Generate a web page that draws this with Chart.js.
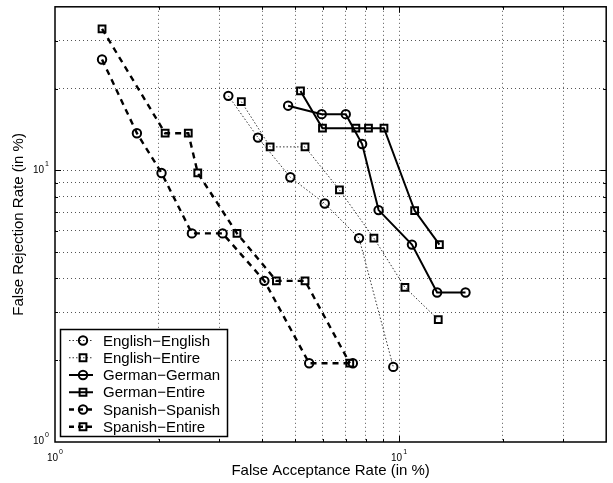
<!DOCTYPE html>
<html>
<head>
<meta charset="utf-8">
<title>DET curves</title>
<script src="https://cdn.jsdelivr.net/npm/chart.js@4.4.0/dist/chart.umd.min.js"></script>
<style>
    html, body { margin: 0; padding: 0; background: #fff; }
</style>
</head>
<body>
<canvas id="detChart" width="613" height="483"></canvas>
<script>
// False acceptance / false rejection rates (in %)
const engEngFar = [3.19, 3.89, 4.83, 6.08, 7.65, 9.62];
const engEngFrr = [18.8, 13.2, 9.43, 7.55, 5.63, 1.89];

const engEntFar = [3.48, 4.22, 5.33, 6.71, 8.45, 10.4, 13.0];
const engEntFrr = [17.9, 12.2, 12.2, 8.47, 5.63, 3.71, 2.82];

const gerGerFar = [4.76, 5.96, 7.00, 7.81, 8.72, 10.9, 12.9, 15.6];
const gerGerFrr = [17.3, 16.1, 16.1, 12.5, 7.14, 5.33, 3.55, 3.55];

const gerEntFar = [5.17, 5.99, 7.49, 8.15, 9.04, 11.1, 13.1];
const gerEntFrr = [19.6, 14.3, 14.3, 14.3, 14.3, 7.11, 5.33];

const spaSpaFar = [1.37, 1.73, 2.04, 2.50, 3.07, 4.06, 5.48, 7.34];
const spaSpaFrr = [25.6, 13.7, 9.78, 5.86, 5.86, 3.92, 1.95, 1.95];

const spaEntFar = [1.37, 2.09, 2.44, 2.60, 3.38, 4.40, 5.33, 7.19];
const spaEntFrr = [33.2, 13.7, 13.7, 9.78, 5.86, 3.92, 3.92, 1.95];

const seriesNames = ['English\u2212English', 'English\u2212Entire', 'German\u2212German',
                     'German\u2212Entire', 'Spanish\u2212Spanish', 'Spanish\u2212Entire'];

// grid positions (log decades plus minor steps) and labelled decades
const gridVals = [1, 2, 3, 4, 5, 6, 7, 8, 9, 10, 20, 30, 40];
const decadeTicks = [1, 10];

const FONT = "'Liberation Sans', Arial, Helvetica, sans-serif";

const lineStyles = {
    dotted: { borderDash: [1.5, 2], borderWidth: 1, borderColor: '#333' },
    solid:  { borderDash: [],        borderWidth: 2, borderColor: '#000' },
    dashed: { borderDash: [6, 5],    borderWidth: 2.4, borderColor: '#000' }
};

function toPoints(xs, ys) {
    return xs.map((v, i) => ({ x: v, y: ys[i] }));
}

function makeSet(label, xs, ys, style, marker) {
    const s = lineStyles[style];
    return {
        label: label,
        data: toPoints(xs, ys),
        showLine: true,
        borderColor: s.borderColor,
        borderWidth: s.borderWidth,
        borderDash: s.borderDash,
        pointStyle: marker,
        pointRadius: marker === 'rect' ? 4.8 : 4.2,
        pointBorderWidth: 2,
        pointBorderColor: '#000',
        pointBackgroundColor: 'rgba(0,0,0,0)',
        lineStyleKey: style
    };
}

const datasets = [
    makeSet(seriesNames[0], engEngFar, engEngFrr, 'dotted', 'circle'),
    makeSet(seriesNames[1], engEntFar, engEntFrr, 'dotted', 'rect'),
    makeSet(seriesNames[2], gerGerFar, gerGerFrr, 'solid', 'circle'),
    makeSet(seriesNames[3], gerEntFar, gerEntFrr, 'solid', 'rect'),
    makeSet(seriesNames[4], spaSpaFar, spaSpaFrr, 'dashed', 'circle'),
    makeSet(seriesNames[5], spaEntFar, spaEntFrr, 'dashed', 'rect')
];

function gridColor(ctx) {
    const v = ctx.tick && ctx.tick.value;
    return (v === 1 || v === 40) ? 'rgba(0,0,0,0)' : '#555';
}

function drawMarker(ctx, style, x, y) {
    ctx.beginPath();
    if (style === 'circle') {
        ctx.arc(x, y, 4.2, 0, Math.PI * 2);
    } else {
        const h = 4.8 * Math.SQRT1_2;
        ctx.rect(x - h, y - h, 2 * h, 2 * h);
    }
    ctx.lineWidth = 2;
    ctx.setLineDash([]);
    ctx.strokeStyle = '#000';
    ctx.stroke();
}

function drawPowerLabel(ctx, exp, x, y, align) {
    ctx.font = '10px ' + FONT;
    const base = '10';
    const bw = ctx.measureText(base).width;
    ctx.font = '7px ' + FONT;
    const ew = ctx.measureText(exp).width;
    let left = x;
    if (align === 'center') left = x - (bw + ew + 1) / 2;
    ctx.textBaseline = 'middle';
    ctx.textAlign = 'left';
    ctx.font = '10px ' + FONT;
    ctx.fillText(base, left, y);
    ctx.font = '7px ' + FONT;
    ctx.fillText(exp, left + bw + 1, y - 6);
}

// Frame, inside ticks, decade labels and the boxed legend
const framePlugin = {
    id: 'frame',
    afterDraw(chart) {
        const { ctx, chartArea: a, scales: { x, y } } = chart;
        ctx.save();
        ctx.strokeStyle = '#000';
        ctx.fillStyle = '#000';
        ctx.lineWidth = 1;
        ctx.setLineDash([]);

        gridVals.forEach(v => {
            if (v === 1 || v === 40) return;
            const len = decadeTicks.indexOf(v) >= 0 ? 6 : 3;
            const px = Math.round(x.getPixelForValue(v)) + 0.5;
            const py = Math.round(y.getPixelForValue(v)) + 0.5;
            ctx.beginPath();
            ctx.moveTo(px, a.bottom); ctx.lineTo(px, a.bottom - len);
            ctx.moveTo(px, a.top); ctx.lineTo(px, a.top + len);
            ctx.moveTo(a.left, py); ctx.lineTo(a.left + len, py);
            ctx.moveTo(a.right, py); ctx.lineTo(a.right - len, py);
            ctx.stroke();
        });

        // decade labels
        decadeTicks.forEach(v => {
            const exp = String(Math.round(Math.log10(v)));
            drawPowerLabel(ctx, exp, x.getPixelForValue(v), a.bottom + 16, 'center');
            drawPowerLabel(ctx, exp, 33, y.getPixelForValue(v) - (v === 1 ? 1 : 0), 'left');
        });

        // legend box
        const lx = 60.5, ly = 329.5, lw = 167, lh = 107;
        ctx.fillStyle = '#fff';
        ctx.fillRect(lx, ly, lw, lh);
        ctx.lineWidth = 1.5;
        ctx.strokeStyle = '#000';
        ctx.strokeRect(lx, ly, lw, lh);

        chart.data.datasets.forEach((ds, i) => {
            const rowY = 340.5 + i * 17.25;
            const s = lineStyles[ds.lineStyleKey];
            ctx.beginPath();
            ctx.setLineDash(ds.lineStyleKey === 'dashed' ? [5, 4] : s.borderDash);
            ctx.lineWidth = s.borderWidth;
            ctx.strokeStyle = s.borderColor;
            ctx.moveTo(69, rowY);
            ctx.lineTo(93, rowY);
            ctx.stroke();
            drawMarker(ctx, ds.pointStyle, 83, rowY);
            ctx.fillStyle = '#000';
            ctx.font = '15px ' + FONT;
            ctx.textAlign = 'left';
            ctx.textBaseline = 'middle';
            ctx.fillText(ds.label, 103, rowY + 1);
        });

        // axes box
        ctx.setLineDash([]);
        ctx.lineWidth = 1.5;
        ctx.strokeStyle = '#000';
        ctx.strokeRect(a.left, a.top, a.right - a.left, a.bottom - a.top);
        ctx.restore();
    }
};

new Chart(document.getElementById('detChart'), {
    type: 'scatter',
    data: { datasets: datasets },
    options: {
        responsive: false,
        animation: false,
        layout: { padding: { left: 0, right: 4, top: 4.5, bottom: 0 } },
        plugins: {
            legend: { display: false },
            tooltip: { enabled: false }
        },
        scales: {
            x: {
                type: 'logarithmic',
                min: 1,
                max: 40,
                afterBuildTicks: scale => { scale.ticks = gridVals.map(v => ({ value: v })); },
                afterFit: scale => { scale.height = 41; },
                ticks: { display: false },
                grid: { color: gridColor, lineWidth: 1, drawTicks: false },
                border: { display: false, dash: [1, 3] },
                title: {
                    display: true,
                    text: 'False Acceptance Rate (in %)',
                    color: '#000',
                    font: { family: FONT, size: 15 },
                    padding: { top: 0, bottom: 3 }
                }
            },
            y: {
                type: 'logarithmic',
                min: 1,
                max: 40,
                afterBuildTicks: scale => { scale.ticks = gridVals.map(v => ({ value: v })); },
                afterFit: scale => { scale.width = 55; },
                ticks: { display: false },
                grid: { color: gridColor, lineWidth: 1, drawTicks: false },
                border: { display: false, dash: [1, 3] },
                title: {
                    display: true,
                    text: 'False Rejection Rate (in %)',
                    color: '#000',
                    font: { family: FONT, size: 15 },
                    padding: { top: 10, bottom: 0 }
                }
            }
        }
    },
    plugins: [framePlugin]
});
</script>
</body>
</html>
